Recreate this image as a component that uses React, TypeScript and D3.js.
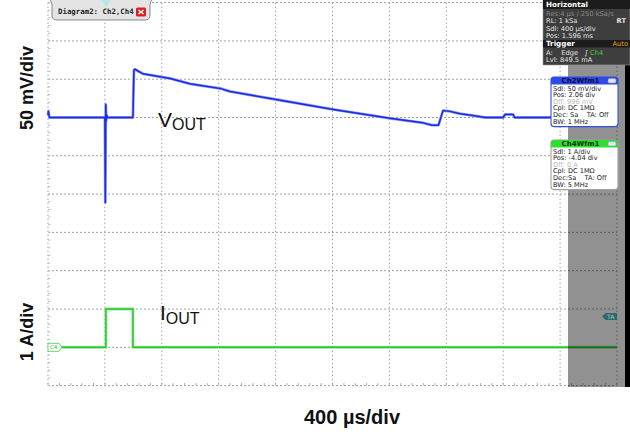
import React from 'react';
import * as d3 from 'd3';

// time in µs (trigger at 0), Ch2 in mV relative to offset, Ch4 in A
const ch2Trace: [number, number][] = [
  [-400, 3], [-397, 8], [-390, 0], [0, 0], [3, -111], [6, 17], [9, -4], [13, 3], [18, 0],
  [197, 0], [204, 62], [211, 63], [268, 57], [458, 51], [598, 44], [809, 38], [879, 34],
  [1203, 23.5], [1604, 10.5], [2004, -1], [2236, -7], [2300, -10], [2345, -10], [2377, 9],
  [2426, 8], [2496, 5], [2588, 2.5], [2672, 0], [2800, 0], [2813, 4], [2869, 4], [2880, 0], [3136, 0],
];
const ch4Trace: [number, number][] = [
  [-400, 0], [7, 0], [7, 1], [197, 1], [197, 0], [3600, 0],
];

const horizRows = ['Res:4 µs / 250 kSa/s', 'RL: 1 kSa', 'Sdl: 400 µs/div', 'Pos: 1.596 ms'];
const ch2Rows = ['Sdl: 50 mV/div', 'Pos: 2.06 div', 'Off: 996 mV', 'Cpl: DC 1MΩ', 'Dec: Sa    TA: Off', 'BW: 1 MHz'];
const ch4Rows = ['Sdl: 1 A/div', 'Pos: -4.04 div', 'Off: 0 A', 'Cpl: DC 1MΩ', 'Dec:Sa    TA: Off', 'BW: 5 MHz'];

const W = 630, H = 434;
const left = 48, right = 617, top = 2.6, bottom = 385.6;
const divs = 10;

const x = d3.scaleLinear().domain([-400, 3600]).range([left, right]);
const yV = d3.scaleLinear().domain([-350, 150]).range([bottom, top]);
const yI = d3.scaleLinear().domain([-1, 9]).range([bottom, top]);

const vLine = d3.line<[number, number]>().x(d => x(d[0])).y(d => yV(d[1]));
const iLine = d3.line<[number, number]>().x(d => x(d[0])).y(d => yI(d[1]));

const mono = '"DejaVu Sans", sans-serif';
const pre = { whiteSpace: 'pre' as const };

const InfoBox = ({ x0, y0, title, color, rows, border, titleColor }: any) => {
  const w = 67, rowH = 6.6;
  const h = 10 + rows.length * rowH;
  return (
    <g>
      <rect x={x0} y={y0} width={w} height={h} rx={3} fill="white" stroke={border} strokeWidth={1.1} />
      <path d={`M${x0 + 3},${y0} h${w - 6} a3,3 0 0 1 3,3 v4.5 h${-w} v-4.5 a3,3 0 0 1 3,-3z`} fill={color} />
      <text x={x0 + w / 2 - 4} y={y0 + 6.4} fontSize={7} fontWeight="bold" fill={titleColor} textAnchor="middle" fontFamily={mono}>{title}</text>
      <rect x={x0 + w - 10} y={y0 + 1.5} width={8} height={4.5} rx={1.5} fill="#dfe6ff" stroke="#8090c0" strokeWidth={0.5} />
      {rows.map((r: string, i: number) => (
        <text key={i} x={x0 + 2} y={y0 + 13.5 + i * rowH} fontSize={6.6} style={pre} fill={r.startsWith('Off') ? '#b8b8b8' : '#1a1a1a'} fontFamily={mono}>{r}</text>
      ))}
    </g>
  );
};

export default function App() {
  const gx = d3.range(divs + 1).map(i => left + (i * (right - left)) / divs);
  const gy = d3.range(divs + 1).map(i => top + (i * (bottom - top)) / divs);
  const minorX = d3.range(divs * 5 + 1).map(i => left + (i * (right - left)) / (divs * 5));
  const minorY = d3.range(divs * 5 + 1).map(i => top + (i * (bottom - top)) / (divs * 5));

  return (
    <svg width={W} height={H} style={{ position: 'absolute', left: 0, top: 0 }} fontFamily='"Liberation Sans", Arial, sans-serif'>
      <rect width={W} height={H} fill="white" />

      {/* grid */}
      {gx.map((v, i) => (
        <line key={'gx' + i} x1={v} x2={v} y1={top} y2={bottom} stroke="#a0a0a0" strokeWidth={1} strokeDasharray="1.5,2.5" />
      ))}
      {gy.map((v, i) => (
        <line key={'gy' + i} x1={left} x2={right} y1={v} y2={v} stroke="#a0a0a0" strokeWidth={1} strokeDasharray="2,2" />
      ))}
      {minorX.map((v, i) => (
        <line key={'mx' + i} x1={v} x2={v} y1={bottom - 2.5} y2={bottom} stroke="#b0b0b0" strokeWidth={1} />
      ))}
      {minorY.map((v, i) => (
        <line key={'my' + i} x1={left} x2={left + 2.5} y1={v} y2={v} stroke="#c0c0c0" strokeWidth={1} />
      ))}

      {/* traces */}
      <path d={iLine(ch4Trace) || ''} fill="none" stroke="#93ea93" strokeWidth={3} />
      <path d={iLine(ch4Trace) || ''} fill="none" stroke="#2cc42c" strokeWidth={1.4} />
      <path d={vLine(ch2Trace) || ''} fill="none" stroke="#8d98f4" strokeWidth={2.8} strokeLinejoin="round" />
      <path d={vLine(ch2Trace) || ''} fill="none" stroke="#1a2ce2" strokeWidth={1.5} strokeLinejoin="round" />

      {/* C4 marker */}
      <path d={`M${left},${yI(0) - 4} h11 l3,4 l-3,4 h-11z`} fill="white" stroke="#40cc40" strokeWidth={0.8} />
      <text x={left + 2} y={yI(0) + 2} fontSize={5.5} fill="#40b040" fontFamily={mono}>C4</text>

      {/* gray side region */}
      <rect x={568} y={0} width={57} height={387} fill="black" opacity={0.43} />
      <rect x={625} y={0} width={5} height={387} fill="black" />
      {/* TA marker */}
      <path d={`M602,${yI(1) + 7.5} l3.5,-3.5 h11.5 v7 h-11.5z`} fill="#2e6a6a" />
      <text x={607} y={yI(1) + 9.8} fontSize={6} fill="#9fcaca" fontFamily={mono}>TA</text>

      {/* horizontal / trigger panel */}
      <rect x={543} y={0} width={87} height={65} fill="#3e3e3e" stroke="#9a9a9a" strokeWidth={0.6} />
      <rect x={543} y={0} width={87} height={9} fill="#1c1c1c" />
      <text x={546} y={7} fontSize={7.2} fontWeight="bold" fill="white" fontFamily={mono}>Horizontal</text>
      {horizRows.map((r, i) => (
        <text key={r} x={546} y={15.5 + i * 7.6} fontSize={6.7} style={pre} fill={i === 0 ? '#8a8a8a' : '#e6e6e6'} fontFamily={mono}>{r}</text>
      ))}
      <text x={626} y={23.1} fontSize={6.7} fontWeight="bold" fill="#e6e6e6" textAnchor="end" fontFamily={mono}>RT</text>
      <rect x={543} y={40} width={87} height={7.5} fill="#1c1c1c" />
      <text x={546} y={46.3} fontSize={7.2} fontWeight="bold" fill="white" fontFamily={mono}>Trigger</text>
      <text x={628} y={46.3} fontSize={6.7} fill="#e8a400" textAnchor="end" fontFamily={mono}>Auto</text>
      <text x={546} y={54.5} fontSize={6.7} style={pre} fill="#e6e6e6" fontFamily={mono}>
        {'A:    Edge   ∫ '}<tspan fill="#3ad23a">Ch4</tspan>
      </text>
      <text x={546} y={62} fontSize={6.7} fill="#e6e6e6" fontFamily={mono}>Lvl: 849.5 mA</text>

      <InfoBox x0={551} y0={77} title="Ch2Wfm1" color="#2f4ae8" border="#3050e0" titleColor="#0a0a40" rows={ch2Rows} />
      <InfoBox x0={551} y0={140} title="Ch4Wfm1" color="#2ee02e" border="#a0a0a0" titleColor="#0a300a" rows={ch4Rows} />

      {/* diagram tab */}
      <path d="M50,0 Q52,2 52,5 V15 Q52,20 57,20 H145 Q150,20 150,15 V5 Q150,2 152,0" fill="#e4e4e4" stroke="#7a7a7a" strokeWidth={0.9} />
      <path d="M101,0 L111,0 L106,7z" fill="#b6e6e6" />
      <text x={58} y={14} fontSize={7.4} fontWeight="bold" fill="#222" fontFamily='"DejaVu Sans Mono", monospace'>Diagram2: Ch2,Ch4</text>
      <rect x={136} y={7.5} width={10} height={9} rx={1.5} fill="#d82020" />
      <path d="M138.5,10 l5,4 M143.5,10 l-5,4" stroke="white" strokeWidth={1.5} />

      {/* labels */}
      <text x={158} y={127} fontSize={21} fill="#111">V<tspan fontSize={16} dy={3}>OUT</tspan></text>
      <text x={160} y={320} fontSize={21} fill="#111">I<tspan fontSize={16} dy={4}>OUT</tspan></text>

      <text transform="translate(33,88) rotate(-90)" textAnchor="middle" fontSize={18} fontWeight="bold" fill="#111">50 mV/div</text>
      <text transform="translate(33,332) rotate(-90)" textAnchor="middle" fontSize={18} fontWeight="bold" fill="#111">1 A/div</text>
      <text x={352} y={424} textAnchor="middle" fontSize={20} fontWeight="bold" fill="#111">400 µs/div</text>
    </svg>
  );
}
